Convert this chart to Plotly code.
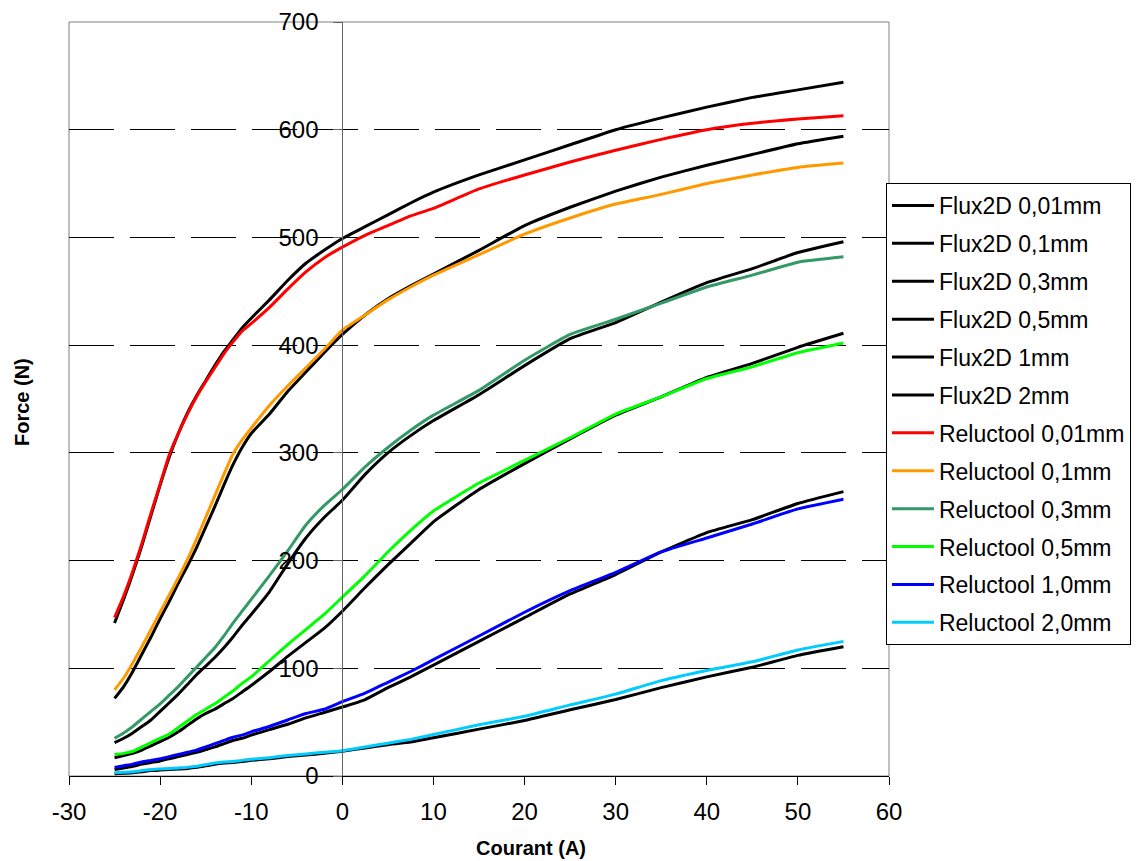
import plotly.graph_objects as go

X = [-25, -24, -23, -22, -21, -20, -19, -18, -17, -16, -15, -14, -13, -12, -11, -10,
     -8, -6, -4, -2, 0, 2.5, 5, 7.5, 10, 15, 20, 25, 30, 35, 40, 45, 50, 55]

flux_001 = [142, 164, 188, 214, 242, 270, 296, 318, 337, 353, 367, 381, 394, 405, 416, 425,
            442, 460, 476, 488, 499, 510, 521, 532, 542, 558, 572, 586, 600, 611, 621, 630, 637, 644]
flux_01 = [72, 83, 97, 113, 129, 146, 162, 179, 195, 212, 231, 250, 270, 289, 305, 318,
           336, 357, 375, 393, 410, 428, 443, 455, 466, 488, 511, 528, 543, 556, 567, 577, 587, 594]
flux_03 = [31, 35, 40, 46, 52, 60, 68, 76, 85, 94, 102, 110, 119, 129, 140, 150,
           171, 197, 221, 240, 256, 280, 300, 316, 330, 354, 381, 406, 421, 440, 458, 471, 486, 496]
flux_05 = [17, 19, 21, 24, 28, 32, 36, 41, 47, 53, 58, 62, 67, 72, 78, 84,
           97, 111, 124, 137, 153, 175, 196, 216, 236, 266, 290, 313, 335, 352, 370, 383, 398, 411]
flux_1 = [6, 7.5, 9, 11, 12.5, 14, 16, 18, 20, 22, 24.5, 27, 30, 33, 35, 38,
          43, 48, 54, 59, 64, 71, 82, 92, 103, 125, 147, 169, 187, 208, 226, 238, 253, 264]
flux_2 = [2, 2.5, 3, 4, 5, 5.5, 6, 6.5, 7, 8, 9.5, 11, 12, 12.5, 13.5, 14.5,
          16, 18, 19.5, 21, 23, 26, 29, 31.5, 35.5, 43.5, 51.5, 61.5, 71, 82, 92, 101, 112, 120]

rel_001 = [147, 167, 190, 216, 244, 271, 298, 318, 336, 352, 366, 379, 392, 403, 413, 420,
           435, 452, 468, 481, 491, 502, 511, 520, 527, 545, 558, 570, 581, 591, 600, 606, 610, 613]
rel_01 = [80, 91, 105, 120, 136, 152, 168, 184, 201, 220, 240, 260, 280, 299, 312, 323,
          344, 362, 379, 396, 414, 428, 442, 454, 465, 484, 503, 518, 531, 540, 550, 558, 565, 569]
rel_03 = [35, 40, 46, 53, 60, 67, 75, 83, 92, 101, 110, 119, 130, 142, 153, 164,
          186, 209, 233, 251, 266, 287, 305, 321, 335, 358, 386, 410, 424, 439, 454, 465, 477, 482]
rel_05 = [20, 21, 23, 27, 31, 35, 39, 45, 51, 57, 62, 67, 73, 79, 86, 92,
          107, 122, 136, 150, 166, 186, 208, 228, 246, 272, 293, 314, 336, 352, 369, 380, 393, 402]
rel_10 = [8, 9.5, 11, 13, 14.5, 16, 18, 20, 22, 24, 27, 30, 33, 36, 38, 41,
          46, 52, 58, 62, 69, 77, 87, 97, 108, 130, 152, 172, 189, 208, 221, 234, 248, 257]
rel_20 = [3, 3.5, 4, 5, 6, 6.5, 7, 7.5, 8, 9, 10.5, 12, 13, 13.5, 14.5, 15.5,
          17, 19, 20.5, 22, 23.5, 27, 30.5, 34, 38.5, 47.5, 55.5, 66, 76, 88.5, 98, 106, 117, 125]

x_ticks = [-30, -20, -10, 0, 10, 20, 30, 40, 50, 60]
x_tick_labels = ["-30", "-20", "-10", "0", "10", "20", "30", "40", "50", "60"]
y_ticks = [0, 100, 200, 300, 400, 500, 600, 700]

series = [
    ("Flux2D 0,01mm", flux_001, "#000000"),
    ("Flux2D 0,1mm", flux_01, "#000000"),
    ("Flux2D 0,3mm", flux_03, "#000000"),
    ("Flux2D 0,5mm", flux_05, "#000000"),
    ("Flux2D 1mm", flux_1, "#000000"),
    ("Flux2D 2mm", flux_2, "#000000"),
    ("Reluctool 0,01mm", rel_001, "#FF0000"),
    ("Reluctool 0,1mm", rel_01, "#FF9900"),
    ("Reluctool 0,3mm", rel_03, "#339966"),
    ("Reluctool 0,5mm", rel_05, "#00FF00"),
    ("Reluctool 1,0mm", rel_10, "#0000FF"),
    ("Reluctool 2,0mm", rel_20, "#00CCFF"),
]

FONT = "Arial, Liberation Sans, sans-serif"

fig = go.Figure()
for i, (name, ys, col) in enumerate(series):
    fig.add_trace(go.Scatter(x=X, y=ys, mode="lines", name=name, legendgroup=f"g{i}",
                             line=dict(color=col, width=3, shape="spline", smoothing=0.4)))

fig.update_layout(
    width=1141, height=861,
    margin=dict(l=69, r=252, t=22, b=85, autoexpand=False),
    paper_bgcolor="white", plot_bgcolor="white",
    font=dict(family=FONT, color="black", size=24),
    showlegend=True,
    legend=dict(x=0.9963, y=0.7865, xanchor="left", yanchor="top",
                bgcolor="white", bordercolor="black", borderwidth=1,
                font=dict(family=FONT, size=23, color="black"),
                itemwidth=42, tracegroupgap=5),
    xaxis=dict(range=[-30, 60], tickmode="array", tickvals=x_ticks, ticktext=x_tick_labels,
               showgrid=False, zeroline=False, automargin=False,
               showline=True, linecolor="black", linewidth=1,
               ticks="outside", ticklen=8, tickcolor="black",
               ticklabelstandoff=6,
               tickfont=dict(family=FONT, size=24, color="black")),
    yaxis=dict(range=[0, 700], tickmode="array", tickvals=y_ticks, anchor="free", position=1/3,
               automargin=False,
               showgrid=True, gridcolor="black", gridwidth=1, griddash="45px,16px",
               zeroline=False, showline=True, linecolor="#666666", linewidth=1,
               ticks="outside", ticklen=9, tickcolor="#666666",
               ticklabelstandoff=10,
               tickfont=dict(family=FONT, size=24, color="black")),
    shapes=[dict(type="rect", xref="paper", yref="paper", x0=0, x1=1, y0=0, y1=1,
                 line=dict(color="#808080", width=1), layer="below")],
    annotations=[
        dict(text="<b>Force (N)</b>", xref="paper", yref="paper", x=-0.0573, y=0.496,
             textangle=-90, showarrow=False, font=dict(family=FONT, size=20, color="black"),
             xanchor="center", yanchor="middle"),
        dict(text="<b>Courant (A)</b>", xref="paper", yref="paper", x=0.5634, y=-0.0955,
             showarrow=False, font=dict(family=FONT, size=20, color="black"),
             xanchor="center", yanchor="middle"),
    ],
)

fig.write_html("out.html", config={"displayModeBar": False},
               post_script="document.body.style.margin='0';document.body.style.overflow='hidden';")
